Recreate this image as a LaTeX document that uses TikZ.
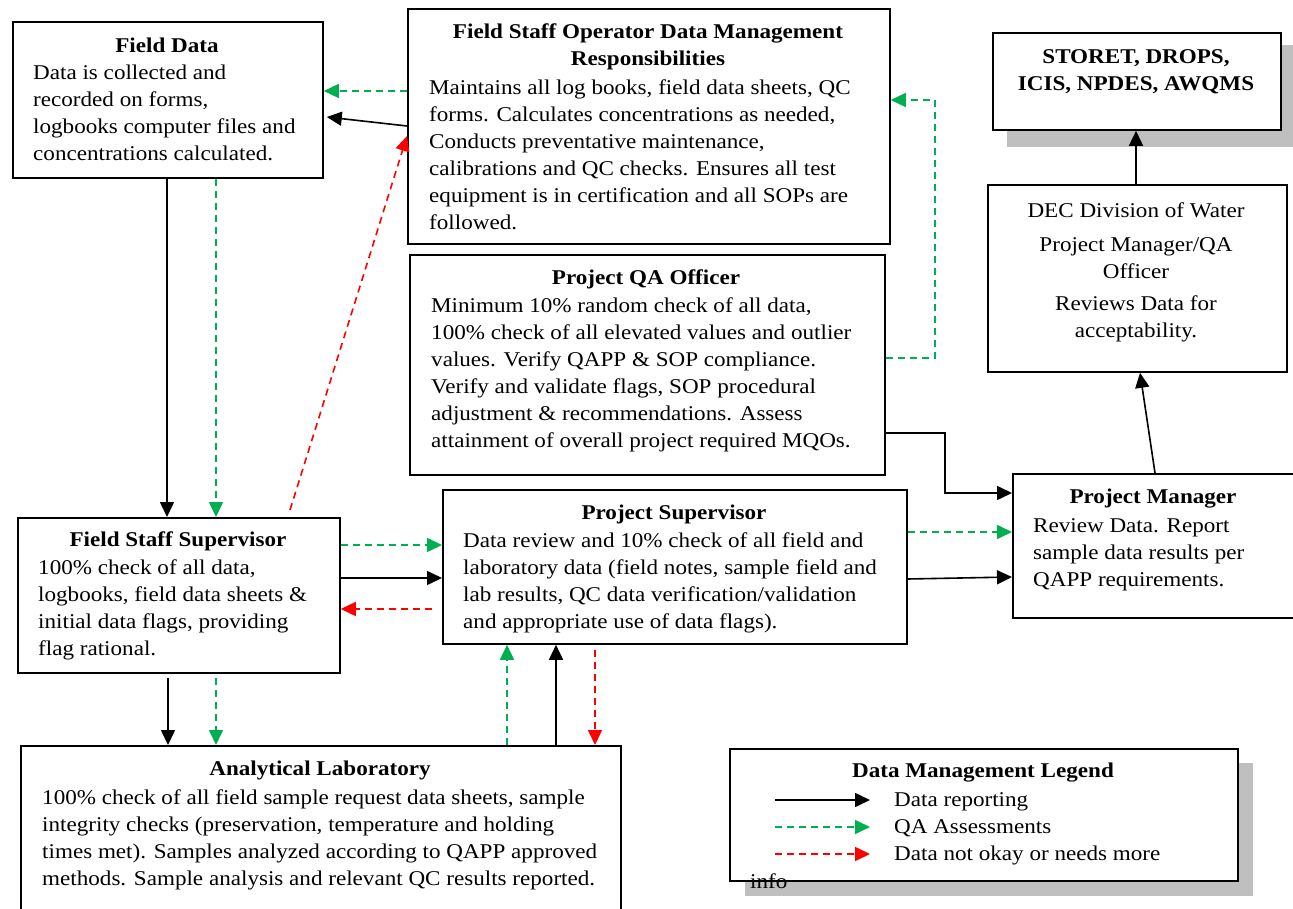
\documentclass[tikz,border=0pt]{standalone}
\usepackage{fontspec}
\setmainfont{Liberation Serif}[FakeStretch=1.1]
\usetikzlibrary{arrows.meta,calc}
\definecolor{qagreen}{RGB}{0,176,80}
\definecolor{badred}{RGB}{255,0,0}
\definecolor{shadowgray}{RGB}{191,191,191}
\tikzset{
  box/.style={draw=black,line width=1.8pt,anchor=north west,inner sep=0pt,fill=white},
  bodytxt/.style={anchor=north west,inner sep=0pt,align=left,font=\fontsize{21}{27}\selectfont},
  titletxt/.style={inner sep=0pt,align=center,font=\fontsize{21}{27}\selectfont\bfseries},
  ctrtxt/.style={inner sep=0pt,align=center,font=\fontsize{21}{27}\selectfont},
  tip/.style={-{Triangle[length=15pt,width=14pt]}},
  rep/.style={tip,line width=1.6pt,black},
  qa/.style={tip,line width=1.6pt,qagreen,dash pattern=on 7pt off 5pt},
  bad/.style={tip,line width=1.6pt,badred,dash pattern=on 7pt off 5pt},
}
\begin{document}
\begin{tikzpicture}[x=1pt,y=-1pt]
\useasboundingbox (0,0) rectangle (1293,909);
\clip (0,0) rectangle (1293,909);
% shadows
\fill[shadowgray] (1007,45) rectangle (1300,147);
\fill[shadowgray] (745,763) rectangle (1253,896);
% boxes
\node[box,minimum width=310pt,minimum height=156pt] (fd) at (12,21) {};
\node[box,minimum width=482pt,minimum height=235pt] (fso) at (407,8) {};
\node[box,minimum width=288pt,minimum height=97pt] (st) at (992,32) {};
\node[box,minimum width=299pt,minimum height=187pt] (dec) at (987,184) {};
\node[box,minimum width=475pt,minimum height=220pt] (qao) at (409,254) {};
\node[box,minimum width=300pt,minimum height=144pt] (pm) at (1012,473) {};
\node[box,minimum width=322pt,minimum height=155pt] (fss) at (17,517) {};
\node[box,minimum width=464pt,minimum height=154pt] (ps) at (442,489) {};
\node[box,minimum width=600pt,minimum height=180pt] (al) at (20,745) {};
\node[box,minimum width=508pt,minimum height=132pt] (lg) at (729,748) {};
% texts
\node[titletxt] (fdT) at (167,45) {Field Data};
\node[bodytxt] (fdB) at (33,65) {Data is collected and\\recorded on forms,\\logbooks computer files and\\concentrations calculated.};
\node[titletxt] (fsoT) at (648,47) {Field Staff Operator Data Management\\Responsibilities};
\node[bodytxt] (fsoB) at (429,80) {Maintains all log books, field data sheets, QC\\forms. Calculates concentrations as needed,\\Conducts preventative maintenance,\\calibrations and QC checks. Ensures all test\\equipment is in certification and all SOPs are\\followed.};
\node[titletxt] (stT) at (1136,72) {STORET, DROPS,\\ICIS, NPDES, AWQMS};
\node[ctrtxt] (decA) at (1136,210) {DEC Division of Water};
\node[ctrtxt] (decB) at (1136,258) {Project Manager/QA\\Officer};
\node[ctrtxt] (decC) at (1136,319) {Reviews Data for\\acceptability.};
\node[titletxt] (qaoT) at (646,279) {Project QA Officer};
\node[bodytxt] (qaoB) at (431,298) {Minimum 10\% random check of all data,\\100\% check of all elevated values and outlier\\values. Verify QAPP \& SOP compliance.\\Verify and validate flags, SOP procedural\\adjustment \& recommendations. Assess\\attainment of overall project required MQOs.};
\node[titletxt] (psT) at (674,514) {Project Supervisor};
\node[bodytxt] (psB) at (463,533) {Data review and 10\% check of all field and\\laboratory data (field notes, sample field and\\lab results, QC data verification/validation\\and appropriate use of data flags).};
\node[titletxt] (pmT) at (1153,499) {Project Manager};
\node[bodytxt] (pmB) at (1033,518) {Review Data. Report\\sample data results per\\QAPP requirements.};
\node[titletxt] (fssT) at (178,541) {Field Staff Supervisor};
\node[bodytxt] (fssB) at (38,560) {100\% check of all data,\\logbooks, field data sheets \&\\initial data flags, providing\\flag rational.};
\node[titletxt] (alT) at (320,770) {Analytical Laboratory};
\node[bodytxt] (alB) at (42,790) {100\% check of all field sample request data sheets, sample\\integrity checks (preservation, temperature and holding\\times met). Samples analyzed according to QAPP approved\\methods. Sample analysis and relevant QC results reported.};
\node[titletxt] (lgT) at (983,773) {Data Management Legend};
\node[bodytxt] (lgB) at (894,792) {Data reporting\\QA Assessments\\Data not okay or needs more};
\node[bodytxt] (lgI) at (750,874) {info};
% legend arrows
\coordinate (l1a) at (775,800); \coordinate (l1b) at (870,800);
\coordinate (l2a) at (775,827); \coordinate (l2b) at (870,827);
\coordinate (l3a) at (775,854); \coordinate (l3b) at (870,854);
\draw[rep] (l1a) -- (l1b);
\draw[qa] (l2a) -- (l2b);
\draw[bad] (l3a) -- (l3b);
% connectors
\draw[qa] (fso.west |- 0,91) -- (fd.east |- 0,91);
\draw[rep] (fso.west |- 0,126) -- ($(fd.east |- 0,117)+(3,0)$);
\draw[rep] (fd.south -| 167,0) -- (fss.north -| 167,0);
\draw[qa] (fd.south -| 216,0) -- (fss.north -| 216,0);
\draw[bad] (290,510) -- (fso.west |- 0,136);
\draw[qa] (qao.east |- 0,358) -- (935,358) -- (935,100) -- (fso.east |- 0,100);
\draw[rep] (qao.east |- 0,433) -- (945,433) -- (945,493) -- (pm.west |- 0,493);
\draw[qa] (fss.east |- 0,545) -- (ps.west |- 0,545);
\draw[rep] (fss.east |- 0,578) -- (ps.west |- 0,578);
\draw[bad] ($(ps.west |- 0,609)+(-10,0)$) -- (fss.east |- 0,609);
\draw[qa] (ps.east |- 0,532) -- (pm.west |- 0,532);
\draw[rep] (ps.east |- 0,579) -- (pm.west |- 0,577);
\draw[rep] (168,678) -- (al.north -| 168,0);
\draw[qa] (216,678) -- (al.north -| 216,0);
\draw[qa] (al.north -| 507,0) -- (ps.south -| 507,0);
\draw[rep] (al.north -| 556,0) -- (ps.south -| 556,0);
\draw[bad] (595,650) -- (al.north -| 595,0);
\draw[rep] (pm.north -| 1155,0) -- (dec.south -| 1140,0);
\draw[rep] (dec.north -| 1136,0) -- (st.south -| 1136,0);
\end{tikzpicture}
\end{document}
